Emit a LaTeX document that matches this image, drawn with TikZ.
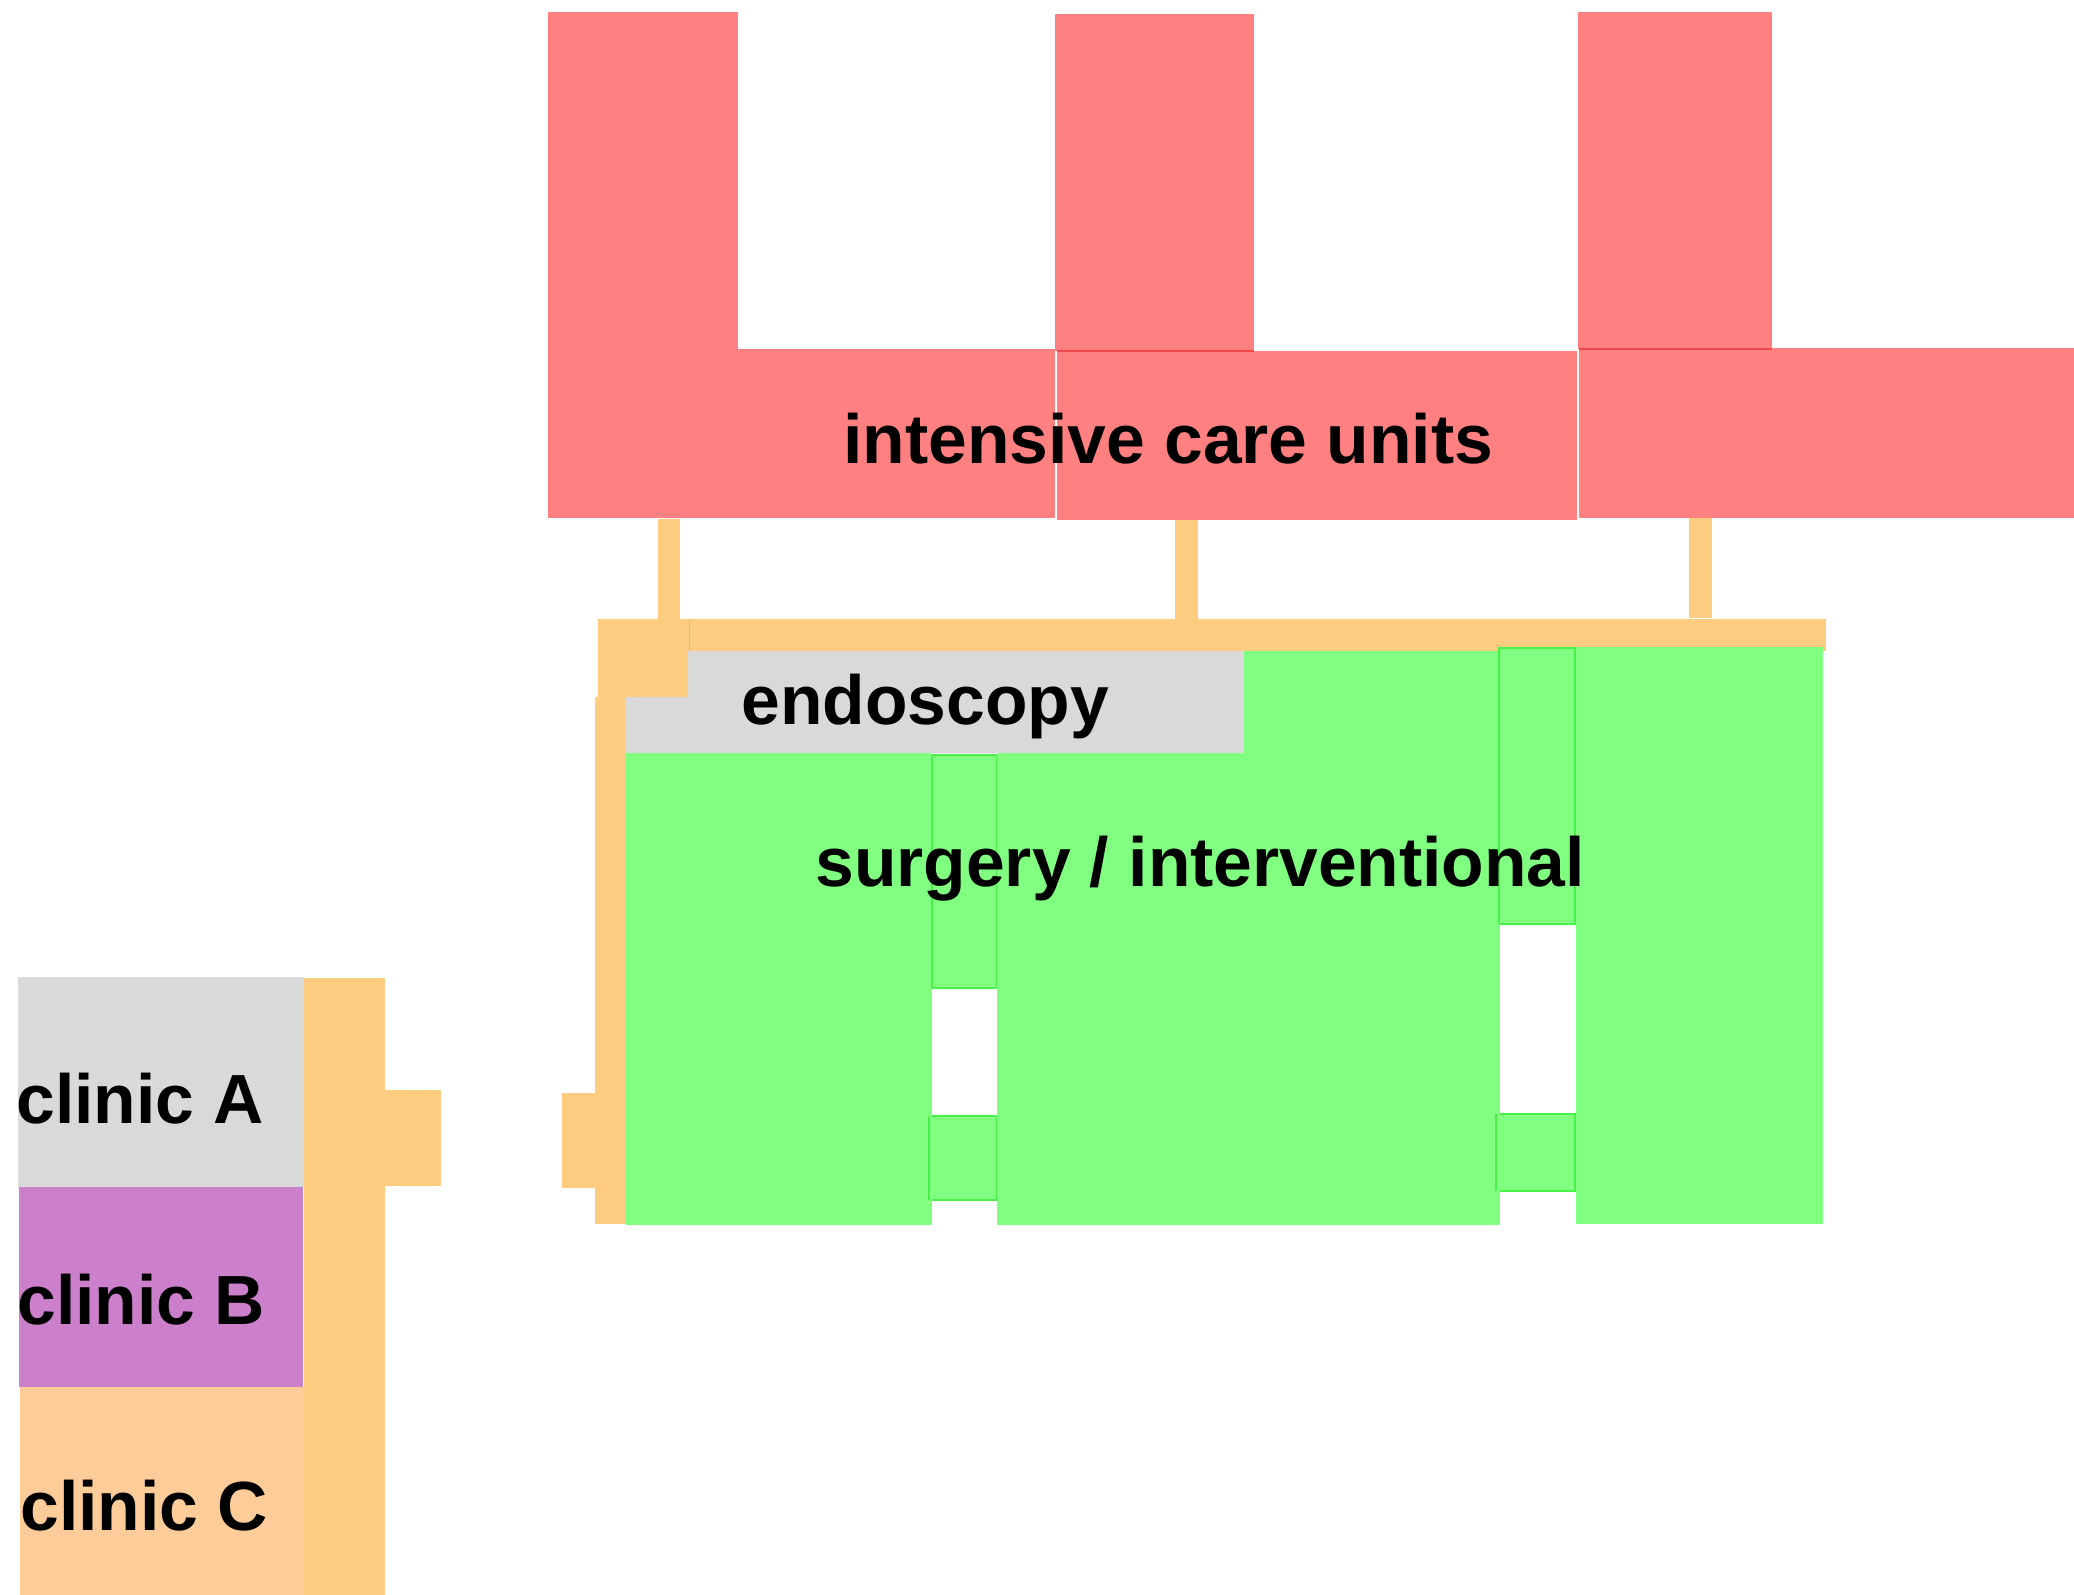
\documentclass[tikz,border=0pt]{standalone}
\usepackage{fontspec}
\setmainfont{Liberation Sans}
\definecolor{icured}{HTML}{FF8080}
\definecolor{icuedge}{HTML}{F04848}
\definecolor{hallorange}{HTML}{FECC80}
\definecolor{halledge}{HTML}{F5B860}
\definecolor{surggreen}{HTML}{80FF80}
\definecolor{surgedge}{HTML}{48F048}
\definecolor{roomgray}{HTML}{D9D9D9}
\definecolor{clinicpurple}{HTML}{CC80CC}
\definecolor{clinicpeach}{HTML}{FDCC99}

\begin{document}
\begin{tikzpicture}[x=0.5pt,y=-0.5pt,
  icu/.style={fill=icured},
  hall/.style={fill=hallorange},
  surg/.style={fill=surggreen},
  gap/.style={draw=surgedge, line width=0.6pt, fill=surggreen},
  seam/.style={draw=surgedge, line width=0.6pt},
  roomlabel/.style={inner sep=0pt, anchor=base west, font=\fontsize{34.8}{40}\selectfont\bfseries}]
\useasboundingbox (0,0) rectangle (2074,1595);

\fill[icu] (548,12) rectangle (738,349);
\fill[icu] (548,349) rectangle (1055,518);
\fill[icu] (1055,14) rectangle (1254,351);
\fill[icu] (1057,351) rectangle (1577,520);
\fill[icu] (1578,12) rectangle (1772,349);
\fill[icu] (1579,348) rectangle (2074,518);
\draw[icuedge, line width=0.6pt] (1057,351) -- (1254,351);
\draw[icuedge, line width=0.8pt] (1579,349) -- (1772,349);

\fill[hall] (658,519) rectangle (680,619);
\fill[hall] (1175,520) rectangle (1198,619);
\fill[hall] (1689,518) rectangle (1712,618);
\fill[hall] (598,619) rectangle (689,697);
\fill[hall] (689,619) rectangle (1826,651);
\draw[halledge, line width=0.5pt] (689,619) -- (689,697);
\fill[hall] (595,697) rectangle (626,1224);
\fill[hall] (562,1093) rectangle (599,1188);
\fill[hall] (304,978) rectangle (385,1595);
\fill[hall] (385,1090) rectangle (441,1186);

\fill[roomgray] (688,651) rectangle (1244,753);
\fill[roomgray] (626,697) rectangle (688,753);

\draw[gap] (932,755) rectangle (997,988);
\draw[gap] (929,1116) rectangle (997,1200);
\draw[gap] (1499,648) rectangle (1575,924);
\draw[gap] (1496,1114) rectangle (1575,1191);
\fill[surg] (1244,651) rectangle (1499,753);
\fill[surg] (626,753) rectangle (932,1225);
\fill[surg] (997,753) rectangle (1500,1225);
\fill[surg] (1576,647) rectangle (1823,1224);
\draw[seam] (932,755) -- (932,988);
\draw[seam] (929,1116) -- (929,1200);
\draw[seam] (1499,648) -- (1499,924);
\draw[seam] (1496,1114) -- (1496,1191);

\fill[roomgray] (18,977) rectangle (304,1187);
\fill[clinicpurple] (19,1187) rectangle (303,1387);
\fill[clinicpeach] (20,1387) rectangle (304,1595);

\node[roomlabel] (icu) at (843,463) {intensive care units};
\node[roomlabel] (endo) at (741,724) {endoscopy};
\node[roomlabel] (surgery) at (815,886) {surgery / interventional};
\node[roomlabel] (clinicA) at (16,1123) {clinic A};
\node[roomlabel] (clinicB) at (17,1324) {clinic B};
\node[roomlabel] (clinicC) at (20,1530) {clinic C};
\end{tikzpicture}
\end{document}
